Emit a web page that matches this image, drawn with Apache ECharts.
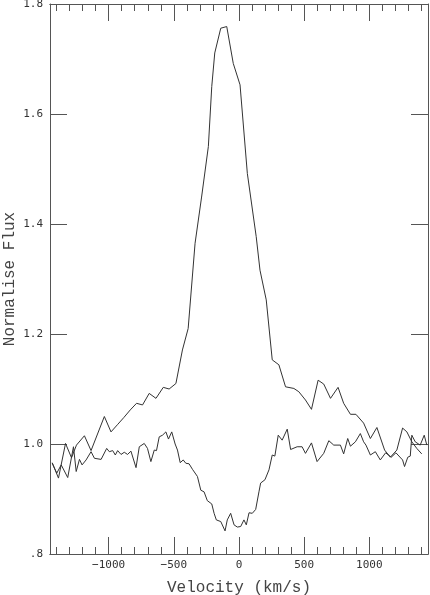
<!DOCTYPE html>
<html>
<head>
<meta charset="utf-8">
<script src="https://cdn.jsdelivr.net/npm/echarts@6/dist/echarts.min.js"></script>
<style>
  html, body { margin: 0; padding: 0; background: #fff; }
  #chart { width: 430px; height: 595px; }
</style>
</head>
<body>
<div id="chart"></div>
<script>
// emission profile (upper curve)
var emisV = [-1433, -1385, -1331, -1285, -1247, -1186, -1135, -1033, -982, -933, -884, -834, -786, -740, -689, -637, -581, -536, -484, -434, -390, -337, -287, -235, -209, -186, -140, -94, -44, 8, 64, 132, 161, 209, 255, 306, 357, 421, 459, 510, 556, 607, 650, 702, 760, 803, 855, 897, 956, 1008, 1058, 1117, 1161, 1211, 1255, 1288, 1326, 1364, 1402];
var emisF = [0.966, 0.938, 1.001, 0.975, 0.998, 1.015, 0.988, 1.050, 1.022, 1.035, 1.048, 1.062, 1.074, 1.071, 1.092, 1.083, 1.103, 1.100, 1.110, 1.171, 1.210, 1.365, 1.449, 1.541, 1.650, 1.711, 1.756, 1.759, 1.692, 1.653, 1.492, 1.377, 1.316, 1.262, 1.153, 1.144, 1.104, 1.101, 1.095, 1.080, 1.063, 1.116, 1.109, 1.083, 1.103, 1.074, 1.054, 1.054, 1.038, 1.010, 1.030, 0.989, 0.976, 0.989, 1.029, 1.022, 1.004, 0.992, 0.982];

// absorption profile (lower curve)
var absV = [-1433, -1398, -1364, -1314, -1270, -1249, -1224, -1204, -1173, -1135, -1109, -1058, -1015, -995, -969, -949, -931, -905, -880, -855, -829, -790, -765, -727, -702, -676, -650, -633, -612, -587, -561, -541, -516, -490, -472, -451, -428, -408, -383, -357, -319, -293, -268, -243, -209, -191, -174, -140, -107, -90, -64, -38, -13, 13, 38, 56, 77, 102, 128, 153, 166, 199, 230, 255, 275, 301, 331, 370, 396, 446, 484, 510, 556, 599, 650, 689, 727, 778, 803, 834, 855, 893, 931, 956, 974, 1008, 1046, 1084, 1125, 1168, 1204, 1255, 1270, 1295, 1314, 1326, 1352, 1390, 1421, 1441];
var absF = [0.965, 0.947, 0.962, 0.939, 0.995, 0.950, 0.972, 0.962, 0.971, 0.986, 0.974, 0.972, 0.992, 0.986, 0.988, 0.980, 0.988, 0.981, 0.985, 0.981, 0.987, 0.957, 0.995, 1.001, 0.992, 0.968, 0.989, 0.988, 1.013, 1.016, 1.022, 1.009, 1.022, 1.000, 0.989, 0.966, 0.971, 0.965, 0.964, 0.954, 0.941, 0.916, 0.913, 0.897, 0.891, 0.874, 0.862, 0.859, 0.842, 0.862, 0.874, 0.853, 0.849, 0.850, 0.862, 0.853, 0.875, 0.874, 0.881, 0.913, 0.929, 0.935, 0.953, 0.980, 0.978, 1.016, 1.007, 1.027, 0.990, 0.995, 0.995, 0.983, 1.002, 0.968, 0.983, 1.006, 0.998, 0.998, 0.982, 1.010, 0.996, 1.004, 1.019, 1.004, 0.998, 0.980, 0.986, 0.971, 0.984, 0.976, 0.984, 0.971, 0.959, 0.976, 0.978, 1.016, 1.004, 0.998, 1.016, 0.998];

var xMajor = [-1000, -500, 0, 500, 1000];
var xMinor = [-1400, -1300, -1200, -1100, -900, -800, -700, -600, -400, -300, -200, -100,
              100, 200, 300, 400, 600, 700, 800, 900, 1100, 1200, 1300, 1400];
var yMajor = [0.8, 1.0, 1.2, 1.4, 1.6, 1.8];

function pairs(xs, ys) {
  return xs.map(function (x, i) { return [x, ys[i]]; });
}

var chart = echarts.init(document.getElementById('chart'));

var axisCol = '#555';
var mono = 'DejaVu Sans Mono';

function xAxisDef(pos, ticks, len, labels) {
  return {
    type: 'value', position: pos, min: -1450, max: 1450,
    axisLine: { show: true, onZero: false, lineStyle: { color: axisCol, width: 1 } },
    axisTick: { show: true, inside: true, length: len, customValues: ticks,
                lineStyle: { color: axisCol, width: 1 } },
    axisLabel: labels ? {
      show: true, customValues: xMajor, margin: 6,
      fontFamily: mono, fontSize: 11, color: '#333',
      formatter: function (v) { return v < 0 ? '\u2212' + (-v) : String(v); }
    } : { show: false },
    splitLine: { show: false }
  };
}

function yAxisDef(pos, labels) {
  return {
    type: 'value', position: pos, min: 0.8, max: 1.8,
    axisLine: { show: true, onZero: false, lineStyle: { color: axisCol, width: 1 } },
    axisTick: { show: true, inside: true, length: 17, customValues: yMajor,
                lineStyle: { color: axisCol, width: 1 } },
    axisLabel: labels ? {
      show: true, customValues: yMajor, margin: 7,
      fontFamily: mono, fontSize: 11, color: '#333',
      formatter: function (v) { return v.toFixed(1).replace(/^0/, ''); }
    } : { show: false },
    splitLine: { show: false }
  };
}

var xb = xAxisDef('bottom', xMajor, 17, true);
xb.name = 'Velocity (km/s)';
xb.nameLocation = 'middle';
xb.nameGap = 26;
xb.nameMoveOverlap = false;
xb.nameTextStyle = { fontFamily: 'Liberation Mono', fontSize: 16, color: '#444' };

var yl = yAxisDef('left', true);
yl.name = 'Normalise Flux';
yl.nameLocation = 'middle';
yl.nameGap = 32;
yl.nameMoveOverlap = false;
yl.nameTextStyle = { fontFamily: 'Liberation Mono', fontSize: 16, color: '#444' };

var option = {
  animation: false,
  backgroundColor: '#fff',
  grid: { left: 50, right: 2, top: 4, bottom: 41, containLabel: false, outerBoundsMode: 'none' },
  xAxis: [
    xb,
    xAxisDef('bottom', xMinor, 7, false),
    xAxisDef('top', xMajor, 17, false),
    xAxisDef('top', xMinor, 7, false)
  ],
  yAxis: [yl, yAxisDef('right', false)],
  series: [
    {
      type: 'line', name: 'emission', data: pairs(emisV, emisF),
      showSymbol: false, xAxisIndex: 0, yAxisIndex: 0,
      lineStyle: { color: '#333', width: 1 }
    },
    {
      type: 'line', name: 'absorption', data: pairs(absV, absF),
      showSymbol: false, xAxisIndex: 0, yAxisIndex: 0,
      lineStyle: { color: '#333', width: 1 }
    }
  ]
};

chart.setOption(option);
</script>
</body>
</html>
